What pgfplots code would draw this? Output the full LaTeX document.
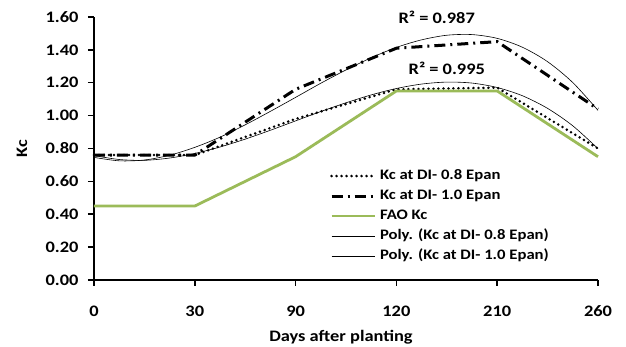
\documentclass[border=0pt]{standalone}
\usepackage{fontspec}
\setmainfont{Carlito}[FakeStretch=1.15]
\usepackage{pgfplots}
\pgfplotsset{compat=1.18}
\definecolor{faogreen}{HTML}{9BBB59}
\begin{document}
\begin{tikzpicture}
\useasboundingbox (-94pt,-67pt) rectangle (532pt,280pt);
\begin{axis}[
  scale only axis, width=504pt, height=263pt,
  xmin=0, xmax=5, ymin=0, ymax=1.6,
  xtick={0,1,2,3,4,5}, xticklabels={0,30,90,120,210,260},
  ytick={0,0.2,...,1.61},
  axis lines=left,
  axis line style={-, line width=2.3pt},
  tick align=outside, major tick length=6pt,
  tick style={black, line width=1.5pt},
  /pgf/number format/assume math mode=true,
  yticklabel={\pgfmathprintnumber[fixed,fixed zerofill,precision=2]{\tick}},
  ticklabel style={font=\fontsize{16}{18}\selectfont\bfseries},
  xticklabel style={yshift=-16pt},
  yticklabel style={xshift=-6pt},
  xlabel={Days after planting}, ylabel={Kc},
  label style={font=\fontsize{16}{18}\selectfont\bfseries},
  xlabel style={at={(axis description cs:0.49,0)}, anchor=center, yshift=-57pt},
  ylabel style={at={(axis description cs:-0.143,0.5)}, anchor=center},
  clip=false,
  legend style={draw=none, fill=none, at={(axis description cs:0.462,0.432)}, anchor=north west,
    font=\fontsize{14.5}{16}\selectfont\bfseries, row sep=5pt, column sep=3pt,
    nodes={inner sep=1pt, text height=10pt, text depth=3pt}},
  legend cell align=left,
  legend image code/.code={\draw[#1] (0pt,0pt) -- (43pt,0pt);},
]
\addplot[black, line width=2.8pt, line cap=round, dash pattern=on 0pt off 5pt] coordinates {
 (0,0.76) (1,0.76) (2,0.98) (3,1.16) (4,1.17) (5,0.80)};
\addlegendentry{Kc at DI- 0.8 Epan}
\addplot[black, line width=3pt, dash pattern=on 11pt off 5pt on 2pt off 5pt] coordinates {
 (0,0.76) (1,0.76) (2,1.16) (3,1.41) (4,1.45) (5,1.04)};
\addlegendentry{Kc at DI- 1.0 Epan}
\addplot[faogreen, line width=2.8pt] coordinates {
 (0,0.45) (1,0.45) (2,0.75) (3,1.15) (4,1.15) (5,0.75)};
\addlegendentry{FAO Kc}
\addplot[black, line width=0.6pt, smooth] coordinates {
 (0,0.757) (0.25,0.733) (0.5,0.728) (0.75,0.742) (1,0.770) (1.25,0.809) (1.5,0.857)
 (1.75,0.911) (2,0.968) (2.25,1.025) (2.5,1.078) (2.75,1.126) (3,1.165) (3.25,1.192)
 (3.5,1.204) (3.75,1.198) (4,1.171) (4.25,1.121) (4.5,1.044) (4.75,0.938) (5,0.799)};
\addlegendentry{Poly. (Kc at DI- 0.8 Epan)}
\addplot[black, line width=0.6pt, smooth] coordinates {
 (0,0.746) (0.25,0.725) (0.5,0.730) (0.75,0.759) (1,0.807) (1.25,0.869) (1.5,0.944)
 (1.75,1.026) (2,1.111) (2.25,1.197) (2.5,1.278) (2.75,1.352) (3,1.415) (3.25,1.461)
 (3.5,1.489) (3.75,1.493) (4,1.470) (4.25,1.416) (4.5,1.328) (4.75,1.201) (5,1.032)};
\addlegendentry{Poly. (Kc at DI- 1.0 Epan)}
\node[font=\fontsize{16}{18}\selectfont\bfseries] at (axis cs:3.40,1.60) {R² = 0.987};
\node[font=\fontsize{16}{18}\selectfont\bfseries] at (axis cs:3.50,1.29) {R² = 0.995};
\end{axis}
\end{tikzpicture}
\end{document}
